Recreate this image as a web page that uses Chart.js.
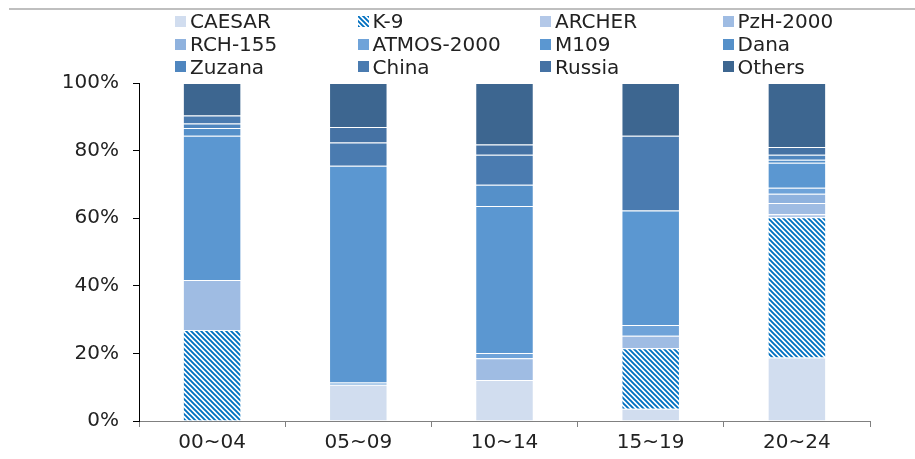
<!DOCTYPE html>
<html>
<head>
<meta charset="utf-8">
<script src="https://cdn.jsdelivr.net/npm/chart.js@4"></script>
<style>
  html, body { margin: 0; padding: 0; background: #fff; }
  #wrap { position: relative; width: 915px; height: 459px; overflow: hidden; }
  #topline { position: absolute; left: 9px; right: 0; top: 8px; height: 2px; background: #bfbfbf; }
  #legend { position: absolute; left: 175px; top: 10px; display: grid;
            grid-template-columns: repeat(4, 182.5px); grid-auto-rows: 22.8px;
            font: 20px "DejaVu Sans", sans-serif; color: #222; }
  #legend div { white-space: nowrap; display: flex; align-items: center; }
  #legend span.sw { display: inline-block; width: 11px; height: 11px; margin-right: 4px; }
  canvas#c { position: absolute; left: 0; top: 0; }
</style>
</head>
<body>
<div id="wrap">
  <div id="topline"></div>
  <canvas id="c" width="915" height="459"></canvas>
  <div id="legend"></div>
</div>
<script>
// periods
var periods = ['00~04', '05~09', '10~14', '15~19', '20~24'];

// share of each system per period [%]
var caesar  = [0,    10.7, 12.1, 3.6,  18.8];
var k9      = [26.9, 0,    0,    17.9, 41.5];
var archer  = [0,    0,    0,    0,    0.9];
var pzh2000 = [14.8, 0,    6.5,  3.7,  3.3];
var rch155  = [0,    0,    0,    0,    2.7];
var atmos   = [0,    0.7,  1.5,  3.2,  1.8];
var m109    = [42.7, 64.1, 43.5, 33.9, 7.4];
var dana    = [2.3,  0,    6.3,  0,    0.9];
var zuzana  = [1.3,  0,    0,    0,    1.5];
var china   = [2.4,  6.9,  8.9,  22.1, 0];
var russia  = [0,    4.6,  3.0,  0,    2.3];
var others  = [9.6,  13.0, 18.2, 15.6, 18.9];

var yTicks = [0, 20, 40, 60, 80, 100];

function makeHatch() {
  var s = 5;
  var c = document.createElement('canvas');
  c.width = s; c.height = s;
  var g = c.getContext('2d');
  g.fillStyle = '#ffffff';
  g.fillRect(0, 0, s, s);
  g.strokeStyle = '#0070c0';
  g.lineWidth = 1.9;
  g.beginPath();
  for (var k = -1; k <= 1; k++) {
    g.moveTo(k * s - 1, -1);
    g.lineTo(k * s + s + 1, s + 1);
  }
  g.stroke();
  return c;
}

var hatchTile = makeHatch();
var ctx = document.getElementById('c').getContext('2d');
var hatch = ctx.createPattern(hatchTile, 'repeat');

var series = [
  { label: 'CAESAR',     data: caesar,  color: '#d1ddef' },
  { label: 'K-9',        data: k9,      color: hatch },
  { label: 'ARCHER',     data: archer,  color: '#b3c8e8' },
  { label: 'PzH-2000',   data: pzh2000, color: '#9fbce3' },
  { label: 'RCH-155',    data: rch155,  color: '#8fb2de' },
  { label: 'ATMOS-2000', data: atmos,   color: '#6fa3d9' },
  { label: 'M109',       data: m109,    color: '#5b97d1' },
  { label: 'Dana',       data: dana,    color: '#5590c9' },
  { label: 'Zuzana',     data: zuzana,  color: '#4f86bf' },
  { label: 'China',      data: china,   color: '#4a7bb0' },
  { label: 'Russia',     data: russia,  color: '#4572a4' },
  { label: 'Others',     data: others,  color: '#3d6690' }
];

// html legend, 4 columns
var leg = document.getElementById('legend');
series.forEach(function (s) {
  var item = document.createElement('div');
  var sw;
  if (s.label === 'K-9') {
    sw = document.createElement('canvas');
    sw.width = 11; sw.height = 11;
    var g = sw.getContext('2d');
    g.fillStyle = g.createPattern(hatchTile, 'repeat');
    g.fillRect(0, 0, 11, 11);
  } else {
    sw = document.createElement('span');
    sw.style.background = s.color;
  }
  sw.className = 'sw';
  sw.style.width = '11px'; sw.style.height = '11px'; sw.style.marginRight = '4px';
  item.appendChild(sw);
  item.appendChild(document.createTextNode(s.label));
  leg.appendChild(item);
});

var chart = new Chart(ctx, {
  type: 'bar',
  data: {
    labels: periods,
    datasets: series.map(function (s) {
      return {
        label: s.label,
        data: s.data,
        backgroundColor: s.color,
        borderColor: 'rgba(255,255,255,0.3)',
        borderWidth: 1,
        barPercentage: 0.4,
        categoryPercentage: 1.0
      };
    })
  },
  options: {
    responsive: false,
    animation: false,
    layout: { padding: { left: 0, right: 45, top: 83, bottom: 0 } },
    plugins: { legend: { display: false }, tooltip: { enabled: false } },
    scales: {
      x: {
        stacked: true,
        afterFit: function (s) { s.height = 38; },
        grid: { drawOnChartArea: false, offset: true, tickLength: 6, color: '#808080' },
        border: { color: '#808080', width: 1 },
        ticks: { color: '#222', padding: 4, font: { family: 'DejaVu Sans', size: 20 } }
      },
      y: {
        stacked: true,
        min: 0,
        max: 100,
        afterFit: function (s) { s.width = 139; },
        afterBuildTicks: function (s) { s.ticks = yTicks.map(function (v) { return { value: v }; }); },
        grid: { drawOnChartArea: false, tickLength: 6, color: '#000' },
        border: { color: '#000', width: 1 },
        ticks: {
          color: '#222',
          padding: 14,
          font: { family: 'DejaVu Sans', size: 20 },
          callback: function (v) { return v + '%'; }
        }
      }
    }
  }
});
</script>
</body>
</html>
